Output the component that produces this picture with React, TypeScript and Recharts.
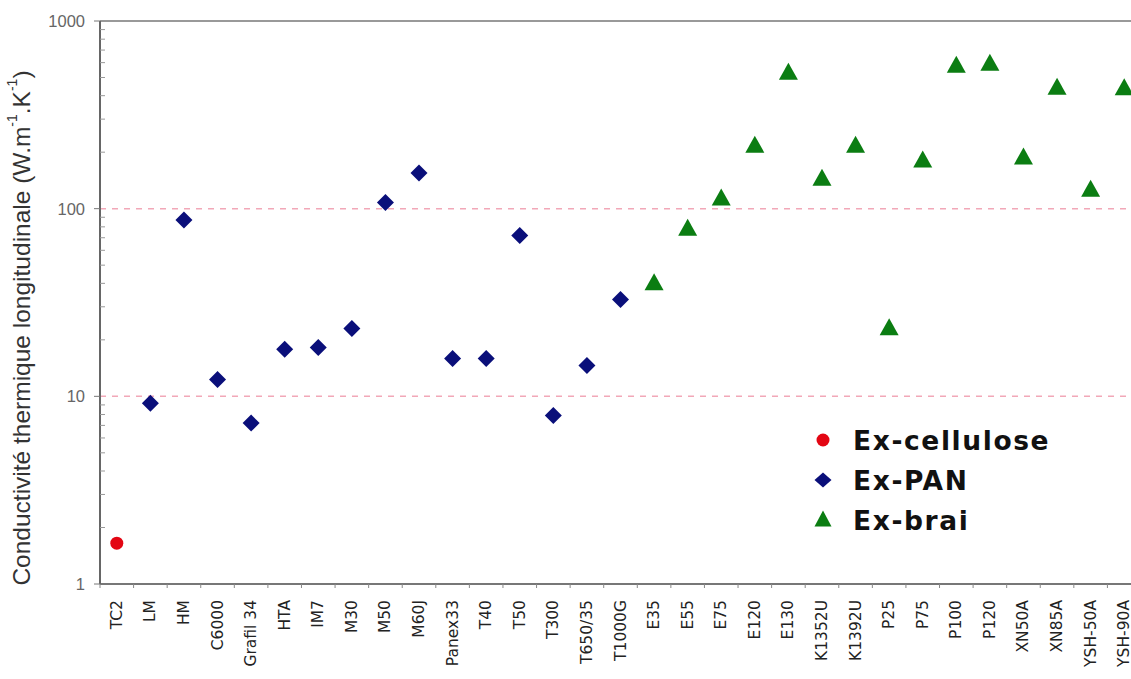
import { ScatterChart, Scatter, XAxis, YAxis, ReferenceLine, Legend } from 'recharts'

const categories = [
  'TC2', 'LM', 'HM', 'C6000', 'Grafil 34', 'HTA', 'IM7', 'M30', 'M50', 'M60J',
  'Panex33', 'T40', 'T50', 'T300', 'T650/35', 'T1000G', 'E35', 'E55', 'E75', 'E120',
  'E130', 'K1352U', 'K1392U', 'P25', 'P75', 'P100', 'P120', 'XN50A', 'XN85A', 'YSH-50A', 'YSH-90A',
]

const celluloseNames = ['TC2']
const celluloseValues = [1.65]

const panNames = [
  'LM', 'HM', 'C6000', 'Grafil 34', 'HTA', 'IM7', 'M30', 'M50', 'M60J',
  'Panex33', 'T40', 'T50', 'T300', 'T650/35', 'T1000G',
]
const panValues = [9.2, 87, 12.3, 7.2, 17.8, 18.2, 23, 108, 155, 15.9, 15.9, 72, 7.9, 14.6, 32.8]

const braiNames = [
  'E35', 'E55', 'E75', 'E120', 'E130', 'K1352U', 'K1392U', 'P25', 'P75', 'P100',
  'P120', 'XN50A', 'XN85A', 'YSH-50A', 'YSH-90A',
]
const braiValues = [40, 78, 113, 216, 529, 144, 216, 23, 180, 576, 590, 187, 440, 126, 437]

const majorTicks = [1, 10, 100, 1000]
const dashedLines = [10, 100]

const seriesLabels = ['Ex-cellulose', 'Ex-PAN', 'Ex-brai']

// ticks 1..1000 incl. minor ones (2..9 per decade)
const yTicks: number[] = []
majorTicks.slice(0, 3).forEach((d) => {
  for (let m = 1; m < 10; m++) yTicks.push(m * d)
})
yTicks.push(1000)

const toPoints = (names: string[], values: number[]) =>
  names.map((n, i) => ({ x: categories.indexOf(n), y: values[i] }))

const celluloseData = toPoints(celluloseNames, celluloseValues)
const panData = toPoints(panNames, panValues)
const braiData = toPoints(braiNames, braiValues)

const RED = '#e30613'
const NAVY = '#0a0f7a'
const GREEN = '#0b7d12'

const W = 1143
const H = 679
const PLOT_LEFT = 100
const PLOT_RIGHT = 2
const BAND = (W - PLOT_LEFT - PLOT_RIGHT) / categories.length

const circle = (x: number, y: number, r: number) => <circle cx={x} cy={y} r={r} fill={RED} />
const diamond = (x: number, y: number, rx: number, ry: number) => (
  <polygon points={`${x},${y - ry} ${x + rx},${y} ${x},${y + ry} ${x - rx},${y}`} fill={NAVY} />
)
const triangle = (x: number, y: number, w: number, h: number) => (
  <polygon
    points={`${x},${y - h * 0.6} ${x + w / 2},${y + h * 0.4} ${x - w / 2},${y + h * 0.4}`}
    fill={GREEN}
  />
)

const Dot = (p: any) => circle(p.cx, p.cy, 6.5)
const Diamond = (p: any) => diamond(p.cx, p.cy, 8.5, 8.5)
const Triangle = (p: any) => triangle(p.cx, p.cy, 19, 17)

const XTick = (p: any) => {
  const { x, y, payload } = p
  const bx = x - BAND / 2
  const ty = y + 8
  return (
    <g>
      <line x1={bx} y1={y - 8} x2={bx} y2={y - 4} stroke="#888" strokeWidth={1} />
      <text
        x={x}
        y={ty}
        transform={`rotate(-90 ${x} ${ty})`}
        textAnchor="end"
        dominantBaseline="central"
        fontFamily="DejaVu Sans, Verdana, sans-serif"
        fontSize={15.5}
        fill="#222"
      >
        {categories[payload.value]}
      </text>
    </g>
  )
}

const YTick = (p: any) => {
  const { x, y, payload } = p
  const v = payload.value
  const major = majorTicks.includes(v)
  return (
    <g>
      {major ? (
        <line x1={PLOT_LEFT - 6} y1={y} x2={PLOT_LEFT} y2={y} stroke="#777" />
      ) : (
        <line x1={PLOT_LEFT} y1={y} x2={PLOT_LEFT + 5} y2={y} stroke="#999" />
      )}
      {major && (
        <text
          x={x - 7}
          y={y}
          textAnchor="end"
          dominantBaseline="central"
          fontFamily="Liberation Sans, Arial, sans-serif"
          fontSize={16.5}
          fill="#666"
        >
          {v}
        </text>
      )}
    </g>
  )
}

const YLabel = () => {
  const cy = 328
  const cx = 21
  return (
    <text
      x={cx}
      y={cy}
      transform={`rotate(-90 ${cx} ${cy})`}
      textAnchor="middle"
      dominantBaseline="central"
      fontFamily="Liberation Sans, Arial, sans-serif"
      fontSize={24.5}
      fill="#333"
    >
      Conductivité thermique longitudinale (W.m
      <tspan fontSize={14} dy={-9}>-1</tspan>
      <tspan dy={9}>.K</tspan>
      <tspan fontSize={14} dy={-9}>-1</tspan>
      <tspan dy={9}>)</tspan>
    </text>
  )
}

const legendShapes = [
  (x: number, y: number) => circle(x, y, 6.5),
  (x: number, y: number) => diamond(x, y, 8.5, 7.5),
  (x: number, y: number) => triangle(x, y, 17, 16),
]

const LegendBox = () => (
  <svg width={300} height={130}>
    {seriesLabels.map((s, i) => (
      <g key={s}>
        {legendShapes[i](23, 20 + i * 40)}
        <text
          x={53}
          y={20 + i * 40}
          dominantBaseline="central"
          fontFamily="DejaVu Sans, Verdana, sans-serif"
          fontWeight="bold"
          fontSize={26.5}
          letterSpacing={1.6}
          fill="#111"
        >
          {s}
        </text>
      </g>
    ))}
  </svg>
)

export default function App() {
  return (
    <div
      style={{
        position: 'absolute',
        left: 0,
        top: 0,
        width: 1131,
        height: 679,
        overflow: 'hidden',
        background: '#fff',
      }}
    >
      <ScatterChart width={W} height={H} margin={{ top: 21, right: PLOT_RIGHT, left: 0, bottom: 0 }}>
        <XAxis
          type="number"
          dataKey="x"
          domain={[-0.5, categories.length - 0.5]}
          ticks={categories.map((_, i) => i)}
          interval={0}
          tick={<XTick />}
          tickLine={false}
          axisLine={{ stroke: '#777', strokeWidth: 2 }}
          height={95}
        />
        <YAxis
          type="number"
          dataKey="y"
          scale="log"
          domain={[1, 1000]}
          ticks={yTicks}
          interval={0}
          allowDataOverflow
          tick={<YTick />}
          tickLine={false}
          axisLine={{ stroke: '#666', strokeWidth: 2 }}
          width={PLOT_LEFT}
        />
        {dashedLines.map((v) => (
          <ReferenceLine key={v} y={v} stroke="#f2a8b8" strokeDasharray="6 6" strokeWidth={1.5} />
        ))}
        <ReferenceLine y={1000} stroke="#999" strokeWidth={2} />
        <Legend
          layout="horizontal"
          verticalAlign="middle"
          content={<LegendBox />}
          wrapperStyle={{ position: 'absolute', left: 800, top: 420, width: 300, height: 130 }}
        />
        <Scatter name={seriesLabels[0]} data={celluloseData} shape={Dot} isAnimationActive={false} />
        <Scatter name={seriesLabels[1]} data={panData} shape={Diamond} isAnimationActive={false} />
        <Scatter name={seriesLabels[2]} data={braiData} shape={Triangle} isAnimationActive={false} />
      </ScatterChart>
      <svg width={50} height={679} style={{ position: 'absolute', left: 0, top: 0 }}>
        <YLabel />
      </svg>
    </div>
  )
}
